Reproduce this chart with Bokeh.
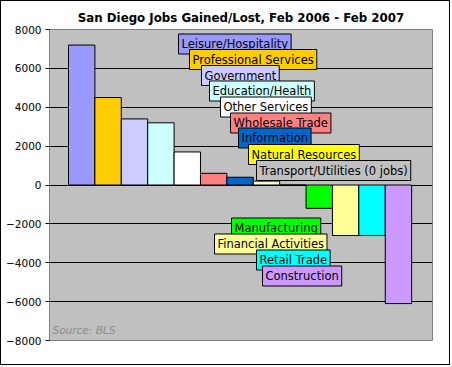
from bokeh.plotting import figure
from bokeh.models import ColumnDataSource, Label, Range1d, FixedTicker, Title
from bokeh.embed import file_html
from bokeh.resources import INLINE

categories = ["Leisure/Hospitality", "Professional Services", "Government", "Education/Health",
              "Other Services", "Wholesale Trade", "Information", "Natural Resources",
              "Transport/Utilities", "Manufacturing", "Financial Activities", "Retail Trade",
              "Construction"]
jobs = [7200, 4500, 3400, 3200, 1700, 600, 400, 200, 0, -1200, -2600, -2600, -6100]
bar_colors = ["#9999FF", "#FFCC00", "#CCCCFF", "#CCFFFF", "#FFFFFF", "#FF8080", "#0066CC",
              "#FFFFCC", "#C0C0C0", "#00FF00", "#FFFF99", "#00FFFF", "#CC99FF"]
label_colors = ["#9999FF", "#FFCC00", "#CCCCFF", "#CCFFFF", "#FFFFFF", "#FF8080", "#0066CC",
                "#FFFF00", "#C0C0C0", "#00FF00", "#FFFF99", "#00FFFF", "#CC99FF"]
label_texts = ["Leisure/Hospitality", "Professional Services", "Government", "Education/Health",
               "Other Services", "Wholesale Trade", "Information", "Natural Resources",
               "Transport/Utilities (0 jobs)", "Manufacturing", "Financial Activities",
               "Retail Trade", "Construction"]
y_ticks = [-8000, -6000, -4000, -2000, 0, 2000, 4000, 6000, 8000]

# label box positions in screen px relative to plot frame (left edge, vertical centre from bottom)
label_pos = [(129, 296.5), (140, 281), (152, 265), (160, 249.5), (171, 233.5), (181, 217.5),
             (189, 202.5), (199, 186), (207, 170), (182, 112.5), (165, 96.5), (207, 80.5),
             (213, 64.5)]

FONT = "DejaVu Sans"

xs = list(range(len(categories)))
src = ColumnDataSource(dict(x=xs, top=jobs, color=bar_colors, name=categories))

p = figure(width=450, height=365, output_backend="svg", toolbar_location=None,
           x_range=Range1d(-1.22, 13.29), y_range=Range1d(-8000, 8000),
           min_border_left=48, min_border_right=19, min_border_bottom=26, min_border_top=28)
p.styles = {"border": "1px solid black"}
p.title = Title(text="San Diego Jobs Gained/Lost, Feb 2006 - Feb 2007", align="center",
                text_font=FONT, text_font_size="11.8px", text_font_style="bold",
                text_color="#000000", offset=0, standoff=9)

p.background_fill_color = "#C0C0C0"
p.border_fill_color = "white"
p.outline_line_color = "#808080"
p.outline_line_width = 1

p.vbar(x="x", top="top", bottom=0, width=1.0, source=src, fill_color="color",
       line_color="black", line_width=1)

p.xaxis.visible = False
p.xgrid.visible = False
p.ygrid.grid_line_color = "black"
p.ygrid.grid_line_width = 1
p.yaxis.ticker = FixedTicker(ticks=y_ticks)
p.yaxis.axis_line_color = "#808080"
p.yaxis.major_tick_line_color = "black"
p.yaxis.major_tick_out = 4
p.yaxis.major_tick_in = 0
p.yaxis.minor_tick_line_color = None
p.yaxis.major_label_text_font = FONT
p.yaxis.major_label_text_font_size = "10.5px"
p.yaxis.major_label_text_color = "black"
p.yaxis.major_label_standoff = 4

for txt, col, (lx, ly) in zip(label_texts, label_colors, label_pos):
    p.add_layout(Label(x=lx, y=ly, x_units="screen", y_units="screen", text=txt,
                       text_font=FONT, text_font_size="11.5px", text_color="black",
                       text_align="left", text_baseline="middle",
                       background_fill_color=col, border_line_color="black",
                       border_line_width=1, padding=3))

p.add_layout(Label(x=3, y=5, x_units="screen", y_units="screen", text="Source: BLS",
                   text_font=FONT, text_font_size="10.5px", text_font_style="italic",
                   text_color="#8C8C8C", text_align="left", text_baseline="bottom"))

open("out.html", "w").write(file_html(p, INLINE))
